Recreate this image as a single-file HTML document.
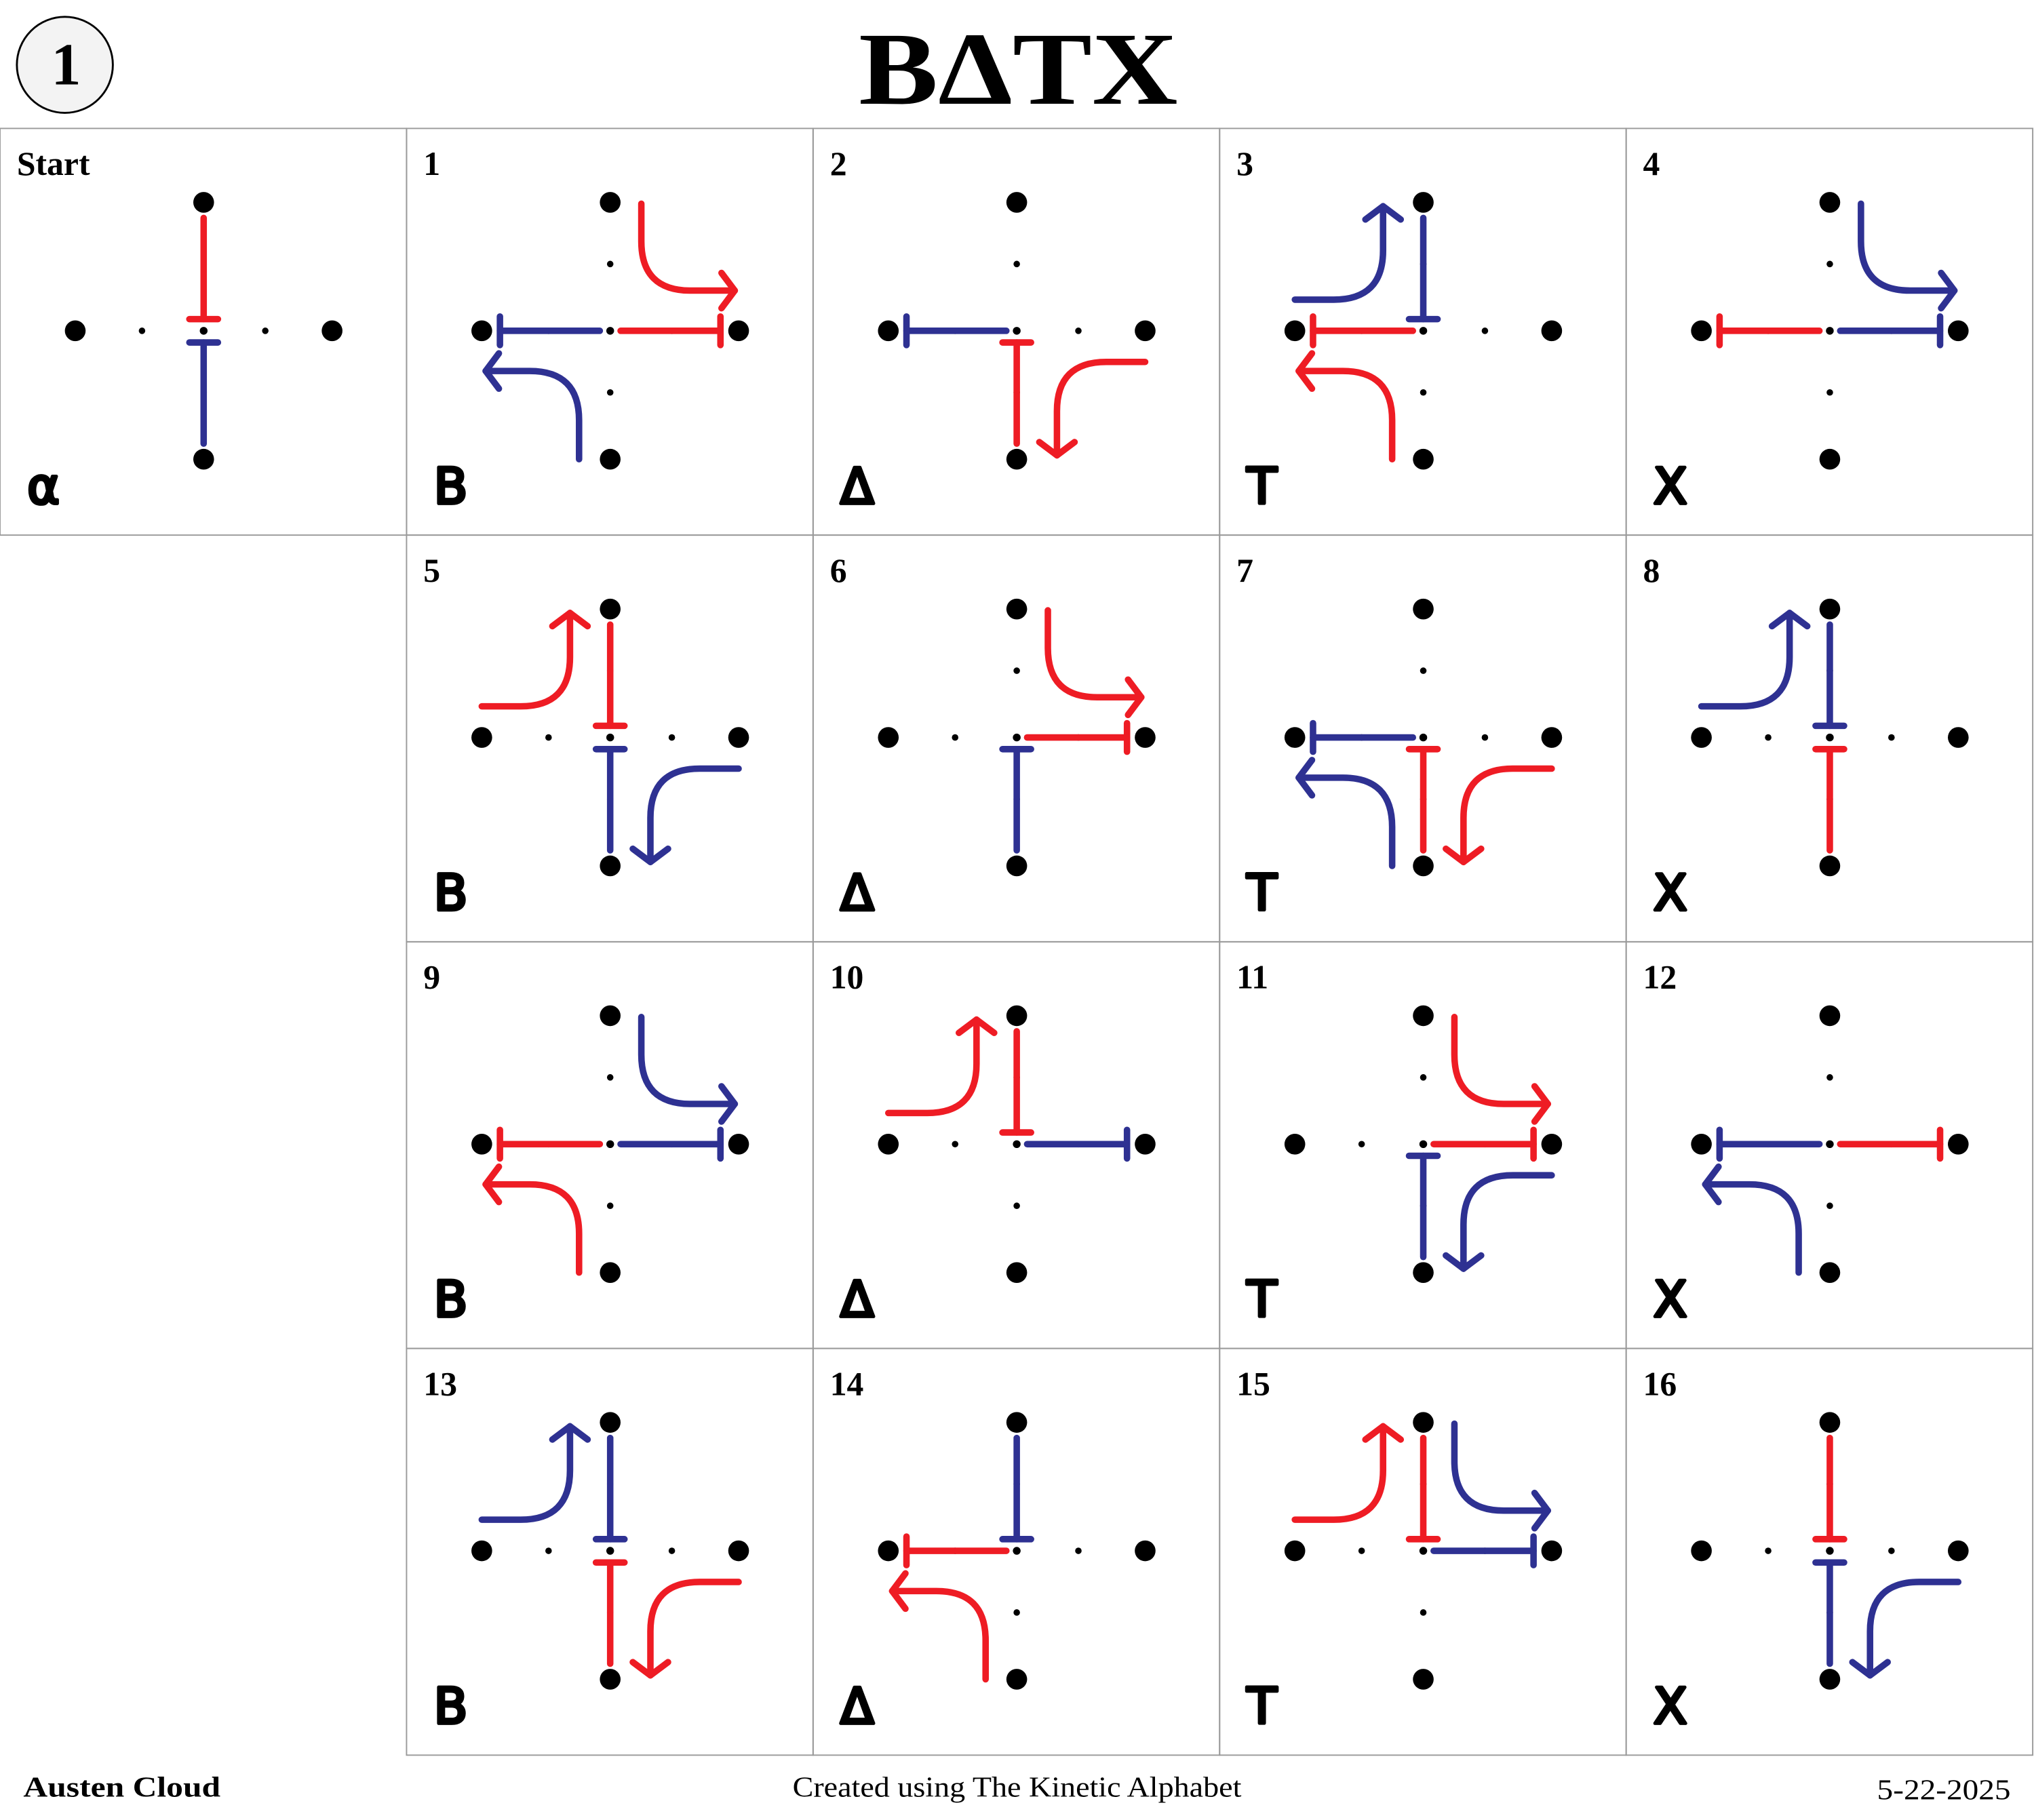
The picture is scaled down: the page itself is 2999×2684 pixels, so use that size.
<!DOCTYPE html>
<html><head><meta charset="utf-8"><style>
html,body{margin:0;padding:0;background:#fff;}
svg{display:block;}
</style></head><body>
<svg id="chart" width="2999" height="2684" viewBox="0 0 1568 1403" preserveAspectRatio="none" xmlns="http://www.w3.org/2000/svg">
<circle cx="50" cy="50" r="37" fill="#f3f3f3" stroke="#000" stroke-width="1.5"/>
<text x="51" y="65" text-anchor="middle" font-family="Liberation Serif, serif" font-weight="bold" font-size="46">1</text>
<text x="662" y="80" textLength="246" lengthAdjust="spacingAndGlyphs" font-family="Liberation Serif, serif" font-weight="bold" font-size="80">BΔTX</text>
<g id="cells"></g>
<text x="18" y="1385" textLength="152" lengthAdjust="spacingAndGlyphs" font-family="Liberation Serif, serif" font-weight="bold" font-size="22">Austen Cloud</text>
<text x="611" y="1385" textLength="346" lengthAdjust="spacingAndGlyphs" font-family="Liberation Serif, serif" font-size="22">Created using The Kinetic Alphabet</text>
<text x="1447" y="1387" textLength="103" lengthAdjust="spacingAndGlyphs" font-family="Liberation Serif, serif" font-size="22">5-22-2025</text>
</svg>
<script>
const RED='#ee1c24', BLUE='#2e3192';
const cellLabels=['Start','1','2','3','4','5','6','7','8','9','10','11','12','13','14','15','16'];
const cellLetters=['α','B','Δ','T','X','B','Δ','T','X','B','Δ','T','X','B','Δ','T','X'];
const cellCols=[0,1,2,3,4,1,2,3,4,1,2,3,4,1,2,3,4];
const cellRows=[0,0,0,0,0,1,1,1,1,2,2,2,2,3,3,3,3];
const cellStaffs=[
 [['r','N','C'],['b','S','C']],
 [['b','C','W'],['r','C','E']],
 [['b','C','W'],['r','S','C']],
 [['b','N','C'],['r','C','W']],
 [['r','C','W'],['b','C','E']],
 [['r','N','C'],['b','S','C']],
 [['r','C','E'],['b','S','C']],
 [['b','C','W'],['r','S','C']],
 [['b','N','C'],['r','S','C']],
 [['r','C','W'],['b','C','E']],
 [['r','N','C'],['b','C','E']],
 [['r','C','E'],['b','S','C']],
 [['b','C','W'],['r','C','E']],
 [['b','N','C'],['r','S','C']],
 [['b','N','C'],['r','C','W']],
 [['r','N','C'],['b','C','E']],
 [['r','N','C'],['b','S','C']]
];
const cellArrows=[
 [],
 [['r','NE'],['b','SW']],
 [['r','SE']],
 [['b','NW'],['r','SW']],
 [['b','NE']],
 [['r','NW'],['b','SE']],
 [['r','NE']],
 [['b','SW'],['r','SE']],
 [['b','NW']],
 [['b','NE'],['r','SW']],
 [['r','NW']],
 [['r','NE'],['b','SE']],
 [['b','SW']],
 [['b','NW'],['r','SE']],
 [['r','SW']],
 [['r','NW'],['b','NE']],
 [['b','SE']]
];
const CW=313.4, CH=313.5, GX=0, GY=99, U=99;
const PTS={C:[0,0],N:[0,-1],S:[0,1],W:[-1,0],E:[1,0]};
const ARR={NE:[[24,-98],[24,-31],[96,-31]],SW:[[-24,99],[-24,31],[-96,31]],SE:[[99,24],[31,24],[31,96]],NW:[[-99,-24],[-31,-24],[-31,-96]]};
const NS='http://www.w3.org/2000/svg';
const root=document.getElementById('cells');
function mk(tag,attrs,parent){const e=document.createElementNS(NS,tag);for(const k in attrs)e.setAttribute(k,attrs[k]);parent.appendChild(e);return e;}
cellLabels.forEach((lab,i)=>{
  const x0=GX+cellCols[i]*CW, y0=GY+cellRows[i]*CH, cx=x0+157, cy=y0+156;
  const g=mk('g',{},root);
  
  
  const r=mk('rect',{x:x0,y:y0,width:CW,height:CH,fill:'none',stroke:'#9a9a9a','stroke-width':1},g);
  
  
  const t=mk('text',{x:x0+13,y:y0+36,'font-family':'Liberation Serif, serif','font-weight':'bold','font-size':26},g);
  t.textContent=lab;
  
  
  const l=mk('text',{x:x0+21,y:y0+289,'font-family':'DejaVu Sans, sans-serif','font-size':38,stroke:'#000','stroke-width':2.5,'stroke-linejoin':'round'},g);
  l.textContent=cellLetters[i];
  
  
  [[0,0,3],[-1,0,8],[1,0,8],[0,-1,8],[0,1,8],[-0.48,0,2.5],[0.48,0,2.5],[0,-0.52,2.5],[0,0.48,2.5]].forEach(d=>{
    const c=mk('circle',{cx:cx+d[0]*U,cy:cy+d[1]*U,r:d[2],fill:'#000'},g);
    
    
  });
  cellStaffs[i].forEach(s=>{
    const col=s[0]==='r'?RED:BLUE;
    const a=PTS[s[1]], b=PTS[s[2]];
    const dx=b[0]-a[0], dy=b[1]-a[1];
    const offA=s[1]==='C'?8:12, offB=s[2]==='C'?9:14;
    const x1=cx+a[0]*U+dx*offA, y1=cy+a[1]*U+dy*offA;
    const x2=cx+b[0]*U-dx*offB, y2=cy+b[1]*U-dy*offB;
    const sg=mk('g',{stroke:col,'stroke-width':5,'stroke-linecap':'round',fill:'none'},g);
    
    
    mk('line',{x1:x1,y1:y1,x2:x2,y2:y2},sg);
    const px=-dy*11, py=dx*11;
    mk('line',{x1:x2+px,y1:y2+py,x2:x2-px,y2:y2-py},sg);
  });
  cellArrows[i].forEach(ar=>{
    const col=ar[0]==='r'?RED:BLUE;
    const [S,K,E]=ARR[ar[1]];
    const P=p=>[cx+p[0],cy+p[1]];
    const s=P(S),k=P(K),e=P(E);
    const R=38;
    const d1=[Math.sign(k[0]-s[0]),Math.sign(k[1]-s[1])], d2=[Math.sign(e[0]-k[0]),Math.sign(e[1]-k[1])];
    const a1=[k[0]-d1[0]*R,k[1]-d1[1]*R], a2=[k[0]+d2[0]*R,k[1]+d2[1]*R];
    const ag=mk('g',{stroke:col,'stroke-width':5,'stroke-linecap':'round','stroke-linejoin':'round',fill:'none'},g);
    
    
    mk('path',{d:`M${s[0]},${s[1]} L${a1[0]},${a1[1]} Q${k[0]},${k[1]} ${a2[0]},${a2[1]} L${e[0]},${e[1]}`},ag);
    const L=17, px=-d2[1], py=d2[0];
    const h1=[e[0]-d2[0]*L*0.6+px*L*0.8,e[1]-d2[1]*L*0.6+py*L*0.8];
    const h2=[e[0]-d2[0]*L*0.6-px*L*0.8,e[1]-d2[1]*L*0.6-py*L*0.8];
    mk('path',{d:`M${h1[0]},${h1[1]} L${e[0]},${e[1]} L${h2[0]},${h2[1]}`},ag);
  });
});
</script>
</body></html>
